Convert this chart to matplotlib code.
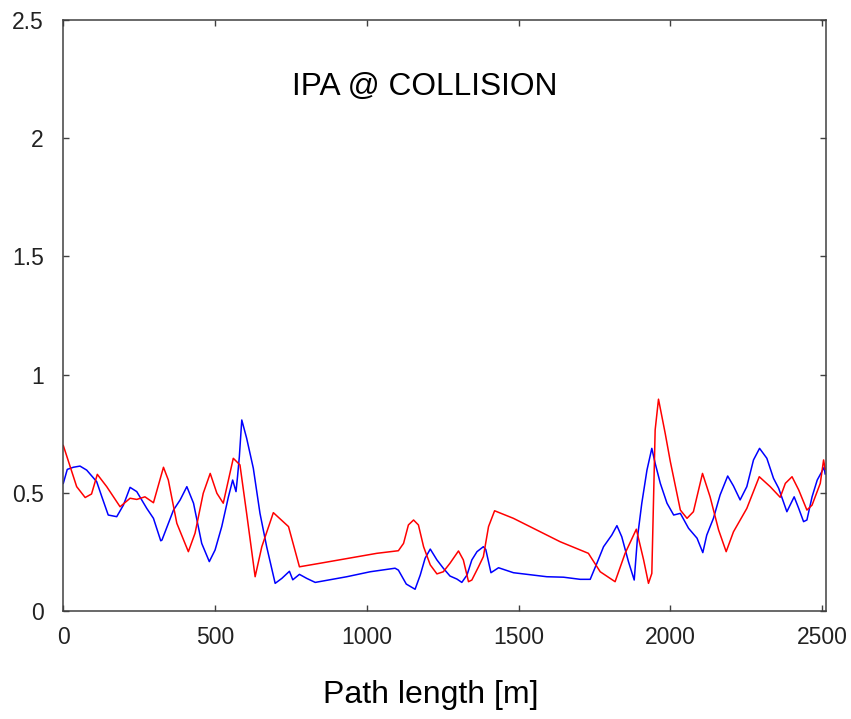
import matplotlib
matplotlib.use('Agg')

import matplotlib.pyplot as plt

# IPA along the ring, two planes
path_blue = [0, 13, 33, 55, 77, 110, 127, 148, 176, 198, 220, 242, 275, 297, 321, 325,
             363, 385, 407, 429, 456, 481, 500, 522, 544, 558, 569, 574, 580, 588, 604,
             626, 648, 670, 698, 720, 745, 756, 778, 802, 830, 934, 1011, 1093, 1104,
             1130, 1159, 1176, 1192, 1209, 1231, 1252, 1274, 1297, 1313, 1330, 1346,
             1363, 1384, 1392, 1409, 1434, 1483, 1593, 1648, 1703, 1736, 1758, 1780,
             1807, 1824, 1840, 1862, 1881, 1892, 1906, 1923, 1939, 1950, 1967, 1989,
             2011, 2033, 2060, 2088, 2107, 2120, 2142, 2164, 2189, 2208, 2230, 2252,
             2274, 2294, 2318, 2340, 2357, 2384, 2408, 2423, 2439, 2450, 2467, 2484,
             2507, 2510]
ipa_blue = [0.54, 0.599, 0.608, 0.613, 0.596, 0.547, 0.483, 0.406, 0.399, 0.448, 0.523,
            0.505, 0.434, 0.392, 0.297, 0.30, 0.427, 0.470, 0.526, 0.456, 0.286, 0.209,
            0.258, 0.357, 0.483, 0.554, 0.505, 0.568, 0.653, 0.808, 0.731, 0.604, 0.413,
            0.272, 0.117, 0.138, 0.168, 0.132, 0.155, 0.138, 0.121, 0.145, 0.166, 0.181,
            0.173, 0.114, 0.092, 0.152, 0.223, 0.262, 0.216, 0.181, 0.148, 0.135, 0.121,
            0.152, 0.216, 0.251, 0.272, 0.26, 0.162, 0.183, 0.162, 0.145, 0.143, 0.134,
            0.134, 0.202, 0.272, 0.321, 0.361, 0.314, 0.209, 0.131, 0.314, 0.456, 0.596,
            0.688, 0.625, 0.540, 0.456, 0.406, 0.413, 0.350, 0.308, 0.247, 0.321, 0.392,
            0.491, 0.571, 0.529, 0.470, 0.526, 0.639, 0.688, 0.646, 0.561, 0.519, 0.420,
            0.483, 0.434, 0.378, 0.385, 0.483, 0.554, 0.608, 0.58]

path_red = [0, 44, 72, 93, 112, 143, 187, 220, 242, 269, 297, 330, 346, 374, 412, 434,
            461, 484, 506, 527, 560, 582, 604, 632, 654, 692, 742, 778, 846, 1033, 1104,
            1121, 1137, 1154, 1170, 1187, 1209, 1231, 1252, 1274, 1302, 1318, 1335, 1346,
            1368, 1384, 1401, 1421, 1483, 1637, 1730, 1769, 1818, 1851, 1888, 1912, 1928,
            1939, 1950, 1961, 1983, 2000, 2033, 2055, 2076, 2106, 2131, 2159, 2184, 2208,
            2252, 2293, 2329, 2362, 2379, 2401, 2423, 2450, 2467, 2494, 2505, 2510]
ipa_red = [0.70, 0.526, 0.48, 0.495, 0.578, 0.526, 0.441, 0.477, 0.472, 0.483, 0.458,
           0.608, 0.554, 0.371, 0.251, 0.329, 0.498, 0.582, 0.498, 0.456, 0.646, 0.618,
           0.413, 0.145, 0.272, 0.416, 0.357, 0.187, 0.202, 0.244, 0.255, 0.286, 0.364,
           0.385, 0.364, 0.272, 0.195, 0.157, 0.166, 0.202, 0.254, 0.216, 0.124, 0.131,
           0.187, 0.230, 0.357, 0.424, 0.392, 0.293, 0.244, 0.166, 0.124, 0.244, 0.346,
           0.216, 0.117, 0.159, 0.766, 0.896, 0.752, 0.632, 0.427, 0.392, 0.420, 0.582,
           0.483, 0.343, 0.251, 0.335, 0.434, 0.568, 0.526, 0.481, 0.540, 0.568, 0.512,
           0.427, 0.448, 0.540, 0.639, 0.60]

xticks = [0, 500, 1000, 1500, 2000, 2500]
yticks = [0, 0.5, 1, 1.5, 2, 2.5]

plt.rcParams['font.family'] = ['Liberation Sans', 'DejaVu Sans']

fig = plt.figure(figsize=(8.51, 7.19), dpi=100)
ax = fig.add_axes([0.0744, 0.1502, 0.8959, 0.8220])

ax.plot(path_blue, ipa_blue, color='#0000ff', lw=1.1)
ax.plot(path_red, ipa_red, color='#ff0000', lw=1.1)

ax.set_xlim(0, 2512)
ax.set_ylim(0, 2.5)
ax.set_xticks(xticks)
ax.set_yticks(yticks)
ax.set_xticklabels([str(t) for t in xticks])
ax.set_yticklabels(['0', '0.5', '1', '1.5', '2', '2.5'])

for sp in ax.spines.values():
    sp.set_color('#404040')
    sp.set_linewidth(1.1)
ax.tick_params(direction='in', length=4.5, width=1.0, color='#404040',
               top=True, right=True, labelsize=16.5, labelcolor='#222222')
ax.tick_params(axis='y', pad=14)
ax.tick_params(axis='x', pad=11)

ax.text(0.4744, 0.873, 'IPA @ COLLISION', transform=ax.transAxes,
        ha='center', va='baseline', fontsize=22.8)
fig.text(431 / 851, 1 - 703 / 719, 'Path length [m]', ha='center', va='baseline',
         fontsize=23)

fig.savefig('out.png', dpi=100)
